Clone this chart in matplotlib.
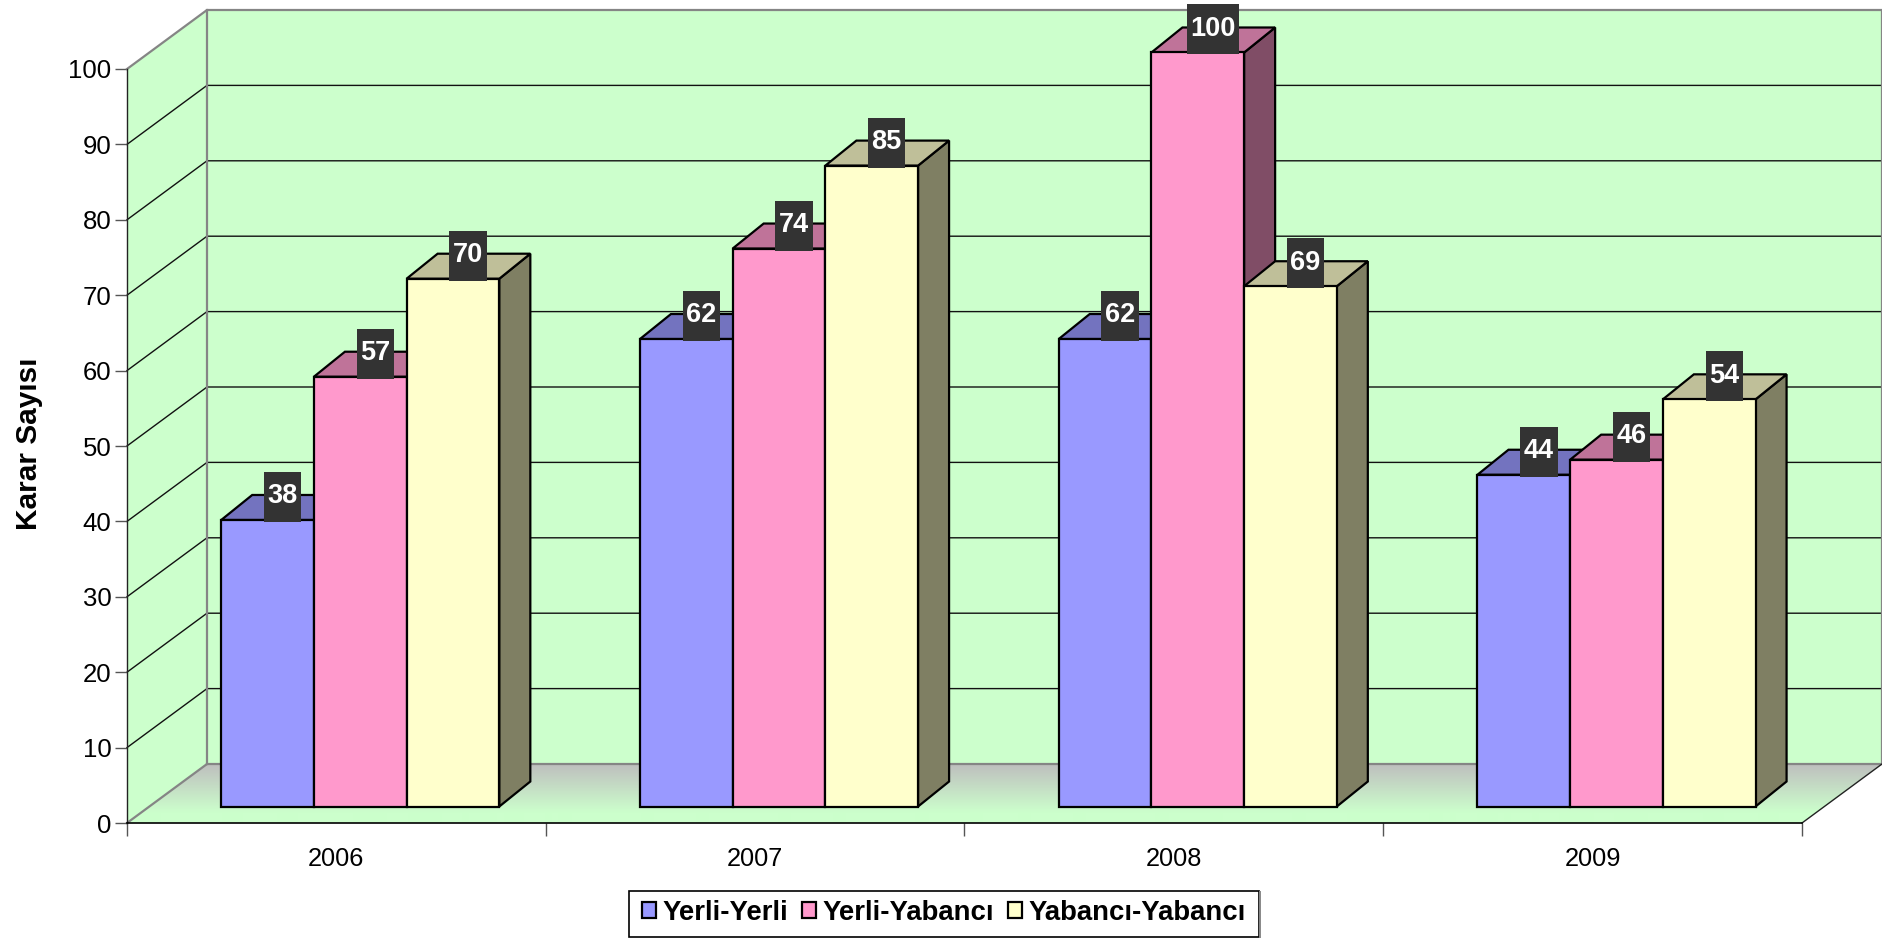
import numpy as np
import matplotlib
matplotlib.use("Agg")
import matplotlib.pyplot as plt
from matplotlib.patches import Polygon, Rectangle
from matplotlib.colors import LinearSegmentedColormap
from matplotlib.lines import Line2D

plt.rcParams['font.family'] = ['Liberation Sans', 'DejaVu Sans']

years = ['2006', '2007', '2008', '2009']
series_names = ['Yerli-Yerli', 'Yerli-Yabancı', 'Yabancı-Yabancı']
yerli_yerli = [38, 62, 62, 44]
yerli_yabanci = [57, 74, 100, 46]
yabanci_yabanci = [70, 85, 69, 54]
y_ticks = list(range(0, 101, 10))

front_colors = ['#9999FF', '#FF99CC', '#FFFFCC']
top_colors = ['#7373BF', '#BF7399', '#BFBF99']
side_colors = ['#4D4D80', '#804D66', '#7F7F63']
WALL = '#CCFFCC'
FLOOR_BACK = '#BEBEBE'
EDGE_GRAY = '#858585'

W, H = 1883, 938
fig = plt.figure(figsize=(W / 100, H / 100), dpi=100, facecolor='white')
L, R, B, T = 127, 1802, 823, 69
ax = fig.add_axes([L / W, (H - B) / H, (R - L) / W, (B - T) / H])
ax.set_xlim(0, 4)
ax.set_ylim(0, 100)
ax.patch.set_visible(False)
xs = (R - L) / 4      # px per category
ys = (B - T) / 100    # px per value unit

WDX, WDY = 80 / xs, 59 / ys      # wall depth
BAR_W = 92.7 / xs
BAR_SHIFT = 23.9 / xs
BAR_BASE = 16.5 / ys
BDX, BDY = 31 / xs, 25 / ys

# back wall, left wall
ax.add_patch(Polygon([(WDX, WDY), (4 + WDX, WDY), (4 + WDX, 100 + WDY), (WDX, 100 + WDY)],
                     closed=True, fc=WALL, ec='none', clip_on=False, zorder=1))
ax.add_patch(Polygon([(0, 0), (WDX, WDY), (WDX, 100 + WDY), (0, 100)],
                     closed=True, fc=WALL, ec='none', clip_on=False, zorder=1))

# floor with gradient
floor = Polygon([(0, 0), (4, 0), (4 + WDX, WDY), (WDX, WDY)], closed=True, transform=ax.transData,
                fc='none', ec='none', clip_on=False)
ax.add_patch(floor)
cmap = LinearSegmentedColormap.from_list('floor', [WALL, FLOOR_BACK])
shade = np.clip((np.linspace(0, 1, 60) - 10 / 59) / (49 / 59), 0, 1).reshape(-1, 1)
im = ax.imshow(shade, extent=(0, 4 + WDX, 0, WDY), origin='lower',
               aspect='auto', cmap=cmap, vmin=0, vmax=1, interpolation='bilinear', zorder=1.2)
im.set_clip_box(fig.bbox)
im.set_clip_path(floor)
ax.set_xlim(0, 4)
ax.set_ylim(0, 100)

# gridlines on walls
for v in y_ticks[1:-1]:
    ax.plot([0, WDX, 4 + WDX], [v, v + WDY, v + WDY], color='#111111', lw=1.0,
            clip_on=False, zorder=1.5, solid_joinstyle='miter')

# wall edges
ax.plot([WDX, WDX], [WDY, 100 + WDY], color=EDGE_GRAY, lw=1.6, clip_on=False, zorder=1.6)
ax.plot([0, WDX, 4 + WDX, 4 + WDX, WDX], [100, 100 + WDY, 100 + WDY, WDY, WDY],
        color=EDGE_GRAY, lw=1.6, clip_on=False, zorder=1.6)
ax.plot([0, WDX], [0, WDY], color=EDGE_GRAY, lw=1.6, clip_on=False, zorder=1.6)
ax.plot([4, 4 + WDX], [0, WDY], color='#222222', lw=1.0, clip_on=False, zorder=1.6)

# bars
all_series = [yerli_yerli, yerli_yabanci, yabanci_yabanci]
z = 3.0
labels = []
for ci in range(len(years)):
    for si, vals in enumerate(all_series):
        v = vals[ci]
        x0 = ci + 0.5 + BAR_SHIFT + (si - 1.5) * BAR_W
        x1 = x0 + BAR_W
        y0 = BAR_BASE
        y1 = BAR_BASE + v
        kw = dict(closed=True, ec='black', lw=1.6, clip_on=False, joinstyle='miter')
        ax.add_patch(Polygon([(x1, y0), (x1 + BDX, y0 + BDY), (x1 + BDX, y1 + BDY), (x1, y1)],
                             fc=side_colors[si], zorder=z, **kw))
        ax.add_patch(Polygon([(x0, y1), (x1, y1), (x1 + BDX, y1 + BDY), (x0 + BDX, y1 + BDY)],
                             fc=top_colors[si], zorder=z, **kw))
        ax.add_patch(Polygon([(x0, y0), (x1, y0), (x1, y1), (x0, y1)],
                             fc=front_colors[si], zorder=z, **kw))
        z += 0.01
        cx = (x0 + x1 + BDX) / 2 - 0.5 / xs
        cy = y1 + BDY / 2 + 10.5 / ys
        labels.append((cx, cy, str(v)))

for cx, cy, s in labels:
    bw = (len(s) * 14.7 + 8) / xs
    bh = 50 / ys
    ax.add_patch(Rectangle((cx - bw / 2, cy - bh / 2), bw, bh, fc='#333333', ec='none',
                           clip_on=False, zorder=5))
    ax.text(cx, cy + 3.6 / ys, s, color='white', fontsize=19.5, fontweight='bold', ha='center',
            va='center_baseline', clip_on=False, zorder=6)

# axes
for s in ('top', 'right'):
    ax.spines[s].set_visible(False)
ax.spines['left'].set_color('#222222')
ax.spines['left'].set_linewidth(1.0)
ax.spines['bottom'].set_color('black')
ax.spines['bottom'].set_linewidth(1.2)
for sp in ax.spines.values():
    sp.set_zorder(2)
ax.set_yticks(y_ticks)
ax.set_yticklabels([str(t) for t in y_ticks])
ax.tick_params(axis='y', length=8.6, width=1.0, color='#555555', labelsize=18.5, pad=2.5)
ax.set_xticks(range(5))
ax.set_xticklabels([])
ax.set_xticks(np.arange(len(years)) + 0.5, minor=True)
ax.set_xticklabels(years, minor=True)
ax.tick_params(axis='x', which='major', length=9.5, width=1.0, color='#555555')
ax.tick_params(axis='x', which='minor', length=0, labelsize=18.3, pad=17)

fig.text(29 / W, 1 - 444 / H, 'Karar Sayısı', rotation=90, fontsize=21.4, fontweight='bold',
         ha='center', va='center')

# legend frame with grey shadow edge, then legend
fig.add_artist(Line2D([1260 / W, 1260 / W], [1 - 892 / H, 1 - 938 / H], color='#888888', lw=1.4))
fig.add_artist(Rectangle((629 / W, 1 - 937 / H), 630 / W, 46 / H, transform=fig.transFigure,
                         fc='white', ec='black', lw=1.2))
handles = [Rectangle((0, 0), 1, 1, fc=c, ec='black', lw=1.6) for c in front_colors]
leg = fig.legend(handles, series_names, loc='center', bbox_to_anchor=(944 / W, 1 - 913 / H), ncol=3,
                 frameon=False, prop={'size': 19.8, 'weight': 'bold'},
                 handlelength=0.5, handleheight=0.5,
                 handletextpad=0.23, columnspacing=0.52, borderpad=0.36, borderaxespad=0)

fig.savefig('out.png', dpi=100, facecolor='white')
